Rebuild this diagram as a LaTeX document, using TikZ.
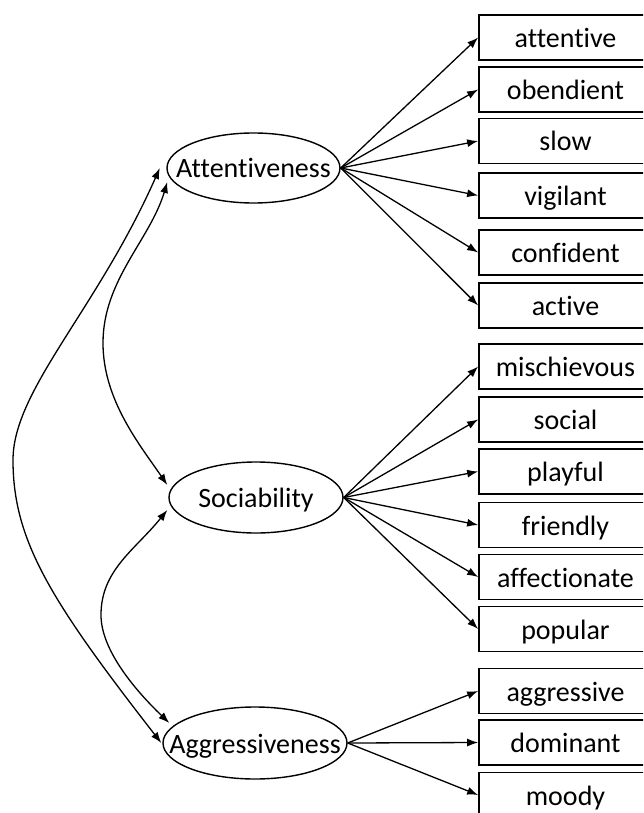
\documentclass[tikz,border=0pt]{standalone}
\usepackage{fontspec}
\setmainfont{Carlito}[Ligatures=NoCommon]
\usetikzlibrary{shapes.geometric,arrows.meta}
\begin{document}
\begin{tikzpicture}[x=1pt,y=-1pt,
  txt/.style={font=\fontsize{28}{33}\selectfont},
  item/.style={draw, txt, line width=1.7pt, minimum width=173pt, minimum height=45pt, inner sep=0pt, text height=20pt, text depth=0pt},
  factor/.style={draw, ellipse, txt, line width=1.4pt, inner sep=0pt, text height=20pt, text depth=0pt},
  load/.style={line width=1.3pt, -{Latex[length=11pt,width=8pt]}},
  cov/.style={line width=1.3pt, {Latex[length=11pt,width=8pt]}-{Latex[length=11pt,width=8pt]}}]
\useasboundingbox (0,0) rectangle (643,813);
\begin{scope}
\clip (0,0) rectangle (643,813);
\node[item] (i1) at (565.5,37.5) {attentive};
\node[item] (i2) at (565.5,89.5) {obendient};
\node[item] (i3) at (565.5,141) {slow};
\node[item] (i4) at (565.5,195.5) {vigilant};
\node[item] (i5) at (565.5,252.5) {confident};
\node[item] (i6) at (565.5,305.5) {active};
\node[item] (i7) at (565.5,366.5) {mischievous};
\node[item] (i8) at (565.5,419.5) {social};
\node[item] (i9) at (565.5,471.5) {playful};
\node[item] (i10) at (565.5,525) {friendly};
\node[item] (i11) at (565.5,577) {affectionate};
\node[item] (i12) at (565.5,629) {popular};
\node[item] (i13) at (565.5,691) {aggressive};
\node[item] (i14) at (565.5,742.5) {dominant};
\node[item] (i15) at (565.5,795) {moody};
\end{scope}
\node[factor, minimum width=173pt, minimum height=70pt] (att) at (253.5,168) {\makebox[0pt]{Attentiveness}};
\node[factor, minimum width=174pt, minimum height=71pt] (soc) at (256,497.5) {\makebox[0pt]{Sociability}};
\node[factor, minimum width=184pt, minimum height=72pt] (agg) at (255,743) {\makebox[0pt]{Aggressiveness}};
\foreach \i in {1,...,6} \draw[load] (att.east) -- (i\i.west);
\foreach \i in {7,...,12} \draw[load] (soc.east) -- (i\i.west);
\foreach \i in {13,14,15} \draw[load] (agg.east) -- (i\i.west);
\draw[cov] ([xshift=-6.5pt]att.west) .. controls (97,310) and (13,390) .. (13,460)
   .. controls (13,540) and (50,600) .. ([xshift=-1pt]agg.west);
\draw[cov] ([xshift=1pt,yshift=-14pt]att.west) .. controls (150,240) and (103,280) .. (103,343)
   .. controls (103,400) and (140,445) .. ([xshift=-1pt,yshift=12.5pt]soc.west);
\draw[cov] ([xshift=-1pt,yshift=-12.5pt]soc.west) .. controls (135,550) and (101,570) .. (101,615)
   .. controls (101,650) and (135,690) .. ([xshift=7pt,yshift=20pt]agg.west);
\end{tikzpicture}
\end{document}
